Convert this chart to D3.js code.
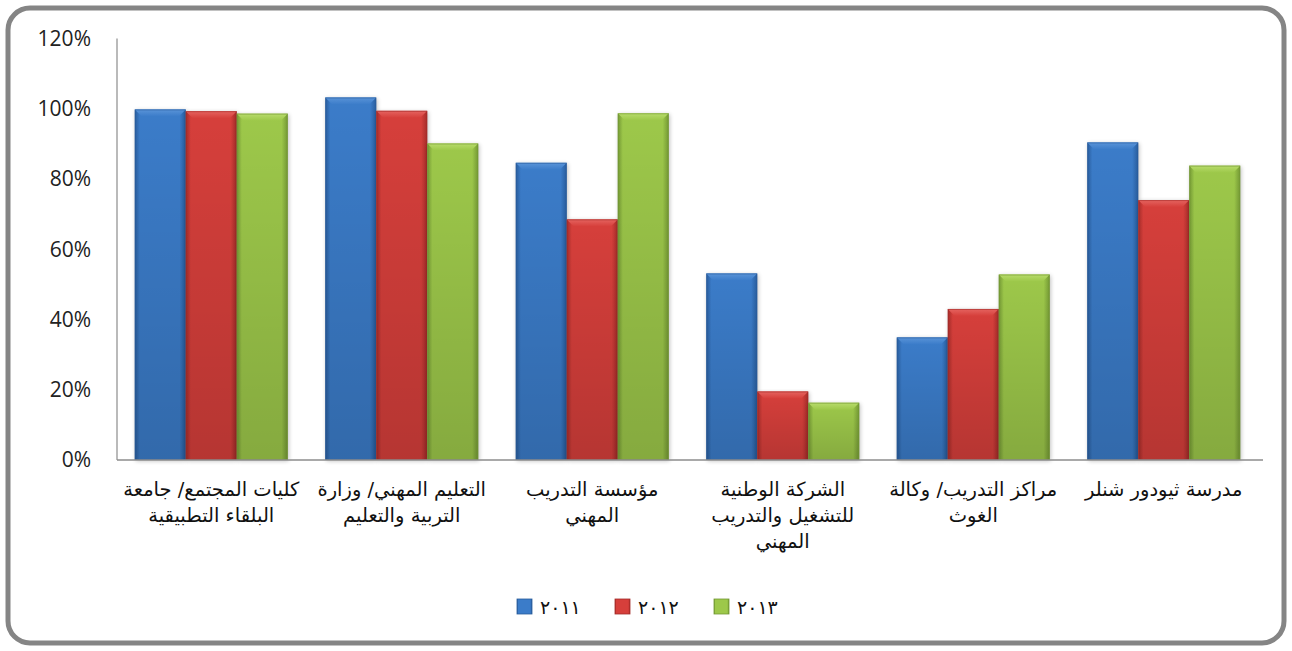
<!DOCTYPE html>
<html>
<head>
<meta charset="utf-8">
<script src="https://cdn.jsdelivr.net/npm/d3@7"></script>
<style>
  html, body { margin: 0; padding: 0; background: #fff; }
  svg { display: block; }
</style>
</head>
<body>
<svg id="chart" width="1292" height="651"></svg>
<script>
const categories = [
  ["كليات المجتمع/ جامعة", "البلقاء التطبيقية"],
  ["التعليم المهني/ وزارة", "التربية والتعليم"],
  ["مؤسسة التدريب", "المهني"],
  ["الشركة الوطنية", "للتشغيل والتدريب", "المهني"],
  ["مراكز التدريب/ وكالة", "الغوث"],
  ["مدرسة ثيودور شنلر"]
];
const seriesNames = ["٢٠١١", "٢٠١٢", "٢٠١٣"];
const values2011 = [99.8, 103.2, 84.6, 53.1, 34.9, 90.4];
const values2012 = [99.3, 99.4, 68.5, 19.5, 43.0, 74.0];
const values2013 = [98.6, 90.1, 98.7, 16.3, 52.8, 83.8];
const yTicks = [0, 20, 40, 60, 80, 100, 120];

const seriesValues = [values2011, values2012, values2013];
const colors = [
  { base: "#3b7cc9", dark: "#285c9c", light: "#5a94d8" },
  { base: "#d63f3b", dark: "#a42c29", light: "#e56460" },
  { base: "#9dc84a", dark: "#739834", light: "#b8dc6c" }
];

const svg = d3.select("#chart");
const W = 1292, H = 651;

// frame
svg.append("rect")
  .attr("x", 8).attr("y", 8).attr("width", W - 16).attr("height", H - 16)
  .attr("rx", 22).attr("ry", 22)
  .attr("fill", "#fff").attr("stroke", "#858585").attr("stroke-width", 5);

const y = d3.scaleLinear().domain([0, 120]).range([460, 38.5]);
const x0 = d3.scaleBand().domain(d3.range(categories.length)).range([116, 1259]).padding(0);
const groupPad = (x0.bandwidth() - 153) / 2;
const x1 = d3.scaleBand().domain(d3.range(3)).range([groupPad, x0.bandwidth() - groupPad]).padding(0);

const defs = svg.append("defs");
colors.forEach((c, i) => {
  const g = defs.append("linearGradient").attr("id", "hg" + i)
    .attr("x1", "0").attr("x2", "1").attr("y1", "0").attr("y2", "0");
  g.append("stop").attr("offset", "0%").attr("stop-color", c.dark);
  g.append("stop").attr("offset", "10%").attr("stop-color", c.base);
  g.append("stop").attr("offset", "50%").attr("stop-color", c.base);
  g.append("stop").attr("offset", "88%").attr("stop-color", c.base);
  g.append("stop").attr("offset", "100%").attr("stop-color", c.dark);
  const b = defs.append("linearGradient").attr("id", "bev" + i)
    .attr("x1", "0").attr("x2", "0").attr("y1", "0").attr("y2", "1");
  b.append("stop").attr("offset", "0%").attr("stop-color", c.light);
  b.append("stop").attr("offset", "100%").attr("stop-color", c.base);
});
const shade = defs.append("linearGradient").attr("id", "vshade")
  .attr("x1", "0").attr("x2", "0").attr("y1", "0").attr("y2", "1");
shade.append("stop").attr("offset", "0%").attr("stop-color", "#000").attr("stop-opacity", 0);
shade.append("stop").attr("offset", "100%").attr("stop-color", "#000").attr("stop-opacity", 0.15);

const blur = defs.append("filter").attr("id", "sh").attr("x", "-20%").attr("y", "-5%").attr("width", "140%").attr("height", "110%");
blur.append("feGaussianBlur").attr("stdDeviation", 2);

// y axis line
svg.append("line").attr("x1", 117).attr("x2", 117).attr("y1", y(120)).attr("y2", y(0))
  .attr("stroke", "#8c8c8c").attr("stroke-width", 1.2);

// y tick labels
svg.append("g").selectAll("text").data(yTicks).join("text")
  .attr("x", 91).attr("y", d => y(d)).attr("dy", "0.35em")
  .attr("text-anchor", "end")
  .attr("font-family", "'Open Sans', 'Noto Sans', sans-serif")
  .attr("font-size", 21).attr("fill", "#222")
  .text(d => d + "%");

// bars
const groups = svg.append("g").selectAll("g").data(categories).join("g")
  .attr("transform", (d, i) => `translate(${x0(i)},0)`);

groups.each(function(cat, ci) {
  const g = d3.select(this);
  seriesValues.forEach((vals, si) => {
    const v = vals[ci];
    const bx = x1(si), bw = x1.bandwidth();
    const top = y(v), bot = y(0);
    g.append("rect").attr("x", bx + 1).attr("y", top + 1).attr("width", bw).attr("height", bot - top)
      .attr("fill", "#000").attr("opacity", 0.25).attr("filter", "url(#sh)");
    g.append("rect").attr("x", bx).attr("y", top).attr("width", bw).attr("height", bot - top)
      .attr("fill", `url(#hg${si})`);
    g.append("rect").attr("x", bx).attr("y", top).attr("width", bw).attr("height", bot - top)
      .attr("fill", "url(#vshade)");
    const bev = 7;
    g.append("path")
      .attr("d", `M${bx},${top} L${bx + bw},${top} L${bx + bw - bev},${top + bev} L${bx + bev},${top + bev} Z`)
      .attr("fill", `url(#bev${si})`);
    g.append("rect").attr("x", bx + 0.5).attr("y", top + 0.5).attr("width", bw - 1).attr("height", bot - top - 1)
      .attr("fill", "none").attr("stroke", colors[si].dark).attr("stroke-opacity", 0.6).attr("stroke-width", 1);
  });
});

svg.append("line").attr("x1", 117).attr("x2", 1263).attr("y1", y(0)).attr("y2", y(0))
  .attr("stroke", "#8c8c8c").attr("stroke-width", 1.5);

// category labels
const catLabels = svg.append("g").selectAll("text").data(categories).join("text")
  .attr("x", (d, i) => x0(i) + x0.bandwidth() / 2)
  .attr("y", 496)
  .attr("text-anchor", "middle")
  .attr("direction", "rtl")
  .attr("font-family", "'DejaVu Sans', 'Noto Sans', sans-serif")
  .attr("font-size", 19.5).attr("fill", "#111");
catLabels.each(function(lines) {
  const t = d3.select(this);
  lines.forEach((ln, k) => {
    t.append("tspan").attr("x", t.attr("x")).attr("dy", k === 0 ? 0 : 26).text(ln);
  });
});

// legend
const legendX = [517, 615, 714];
const lg = svg.append("g").selectAll("g").data(seriesNames).join("g")
  .attr("transform", (d, i) => `translate(${legendX[i]},599)`);
lg.append("rect").attr("width", 15).attr("height", 15).attr("fill", (d, i) => `url(#hg${i})`)
  .attr("stroke", (d, i) => colors[i].dark).attr("stroke-width", 0.8);
lg.append("text").attr("x", 23).attr("y", 7.5).attr("dy", "0.38em")
  .attr("font-family", "'DejaVu Sans', 'Noto Sans', sans-serif")
  .attr("font-size", 19).attr("letter-spacing", 3).attr("fill", "#111")
  .text(d => d);
</script>
</body>
</html>
